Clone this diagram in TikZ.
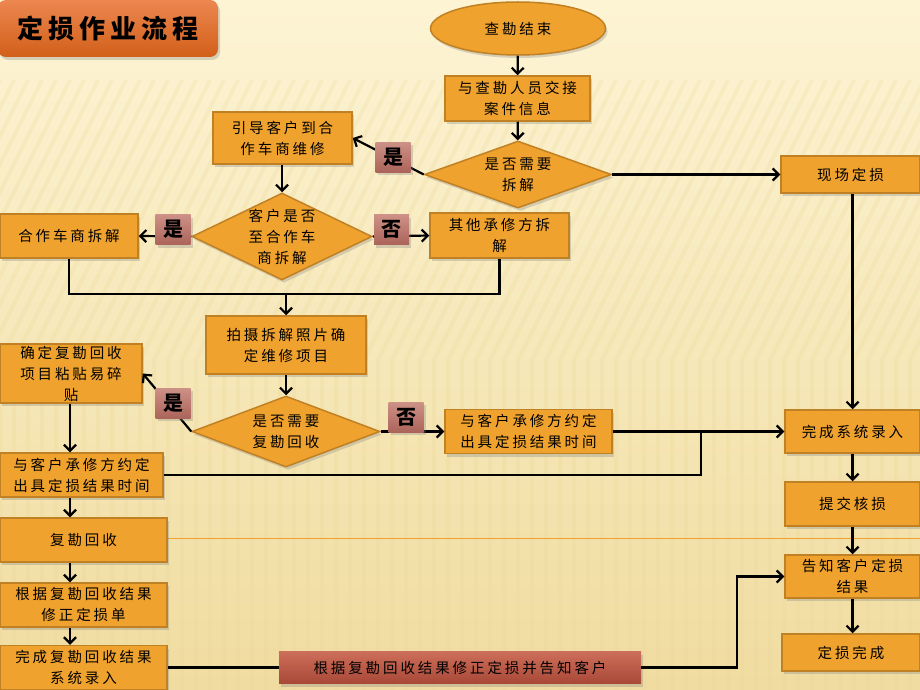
\documentclass[tikz,border=0pt]{standalone}
\usepackage{fontspec}
\setmainfont{Noto Sans CJK SC}
\newfontfamily\cjk[LetterSpace=20]{Noto Sans CJK SC}
\usetikzlibrary{shapes.geometric,arrows.meta,shadows,calc}
\definecolor{boxfill}{RGB}{240,162,46}
\definecolor{boxline}{RGB}{192,128,36}
\definecolor{bgtop}{RGB}{253,244,212}
\definecolor{bgbot}{RGB}{240,220,160}
\definecolor{stripe}{RGB}{236,214,150}
\definecolor{yntop}{RGB}{205,145,135}
\definecolor{ynbot}{RGB}{172,100,90}
\definecolor{redtop}{RGB}{205,110,90}
\definecolor{redbot}{RGB}{168,72,55}
\definecolor{titletop}{RGB}{236,135,80}
\definecolor{titlebot}{RGB}{210,95,25}
\tikzset{
  base/.style={font=\cjk\fontsize{14.5}{21}\selectfont, align=center, text=black, inner sep=0pt},
  shad/.style={drop shadow={shadow xshift=2pt, shadow yshift=-3pt, opacity=0.3}},
  box/.style={base, rectangle, fill=boxfill, draw=boxline, line width=1.5pt, shad},
  dia/.style={diamond, fill=boxfill, draw=boxline, line width=1.5pt, inner sep=0pt, shad},
  dtext/.style={base},
  yn/.style={rectangle, top color=yntop, bottom color=ynbot, font=\cjk\bfseries\fontsize{20}{20}\selectfont, minimum width=35, minimum height=30, inner sep=0pt, shad},
  arr/.style={line width=2.2pt, -{Straight Barb[length=6pt,width=12pt]}},
  conn/.style={line width=2.2pt},
}
\begin{document}
\begin{tikzpicture}[x=1pt,y=-1pt]
\useasboundingbox (0,0) rectangle (920,690);
\fill[top color=bgtop, bottom color=bgbot] (0,0) rectangle (920,690);
\begin{scope}
\clip (0,80) rectangle (920,690);
\foreach \i in {0,14,...,1300} {
  \draw[stripe, opacity=0.22, line width=4pt] (\i,80) -- (\i-140,360) -- (\i-140,690);
}
\end{scope}
% title
\node[rectangle, rounded corners=8pt, top color=titletop, bottom color=titlebot, minimum width=220, minimum height=57, inner sep=0pt, shad, font=\cjk\bfseries\fontsize{26}{30}\selectfont] (title) at (108,28.5) {定损作业流程};
% orange thin line
\coordinate (ol1) at (167,538);
\coordinate (ol2) at (920,538);
\draw[boxfill, line width=1pt] (ol1) -- (ol2);
% nodes
\node[ellipse, fill=boxfill, draw=boxline, line width=1.5pt, minimum width=175, minimum height=53, base, shad] (start) at (518,28.5) {查勘结束};
\node[box, minimum width=145, minimum height=45] (b1) at (517.5,98.5) {与查勘人员交接\\案件信息};
\node[dia, minimum width=187, minimum height=67] (d1) at (518,174.5) {};
\node[dtext] at (d1) {是否需要\\拆解};
\node[box, minimum width=139, minimum height=52] (b2) at (282.5,138) {引导客户到合\\作车商维修};
\node[box, minimum width=139, minimum height=37] (b3) at (850.5,174.5) {现场定损};
\node[dia, minimum width=180, minimum height=87] (d2) at (282,236.5) {};
\node[dtext] at (d2) {客户是否\\至合作车\\商拆解};
\node[box, minimum width=138, minimum height=44] (b4) at (69,236) {合作车商拆解};
\node[box, minimum width=139, minimum height=45] (b5) at (499.5,235.5) {其他承修方拆\\解};
\node[box, minimum width=160, minimum height=58] (b6) at (286,345) {拍摄拆解照片确\\定维修项目};
\node[dia, minimum width=188, minimum height=71] (d3) at (286,431.5) {};
\node[dtext] at (d3) {是否需要\\复勘回收};
\node[box, minimum width=142, minimum height=59] (b7) at (71,373.5) {确定复勘回收\\项目粘贴易碎\\贴};
\node[box, minimum width=167, minimum height=44] (b8) at (528.5,431.5) {与客户承修方约定\\出具定损结果时间};
\node[box, minimum width=135, minimum height=43] (b9) at (852.5,431.5) {完成系统录入};
\node[box, minimum width=163, minimum height=44] (b10) at (81.5,475) {与客户承修方约定\\出具定损结果时间};
\node[box, minimum width=167, minimum height=44] (b11) at (83.5,540) {复勘回收};
\node[box, minimum width=167, minimum height=44] (b12) at (83.5,605) {根据复勘回收结果\\修正定损单};
\node[box, minimum width=167, minimum height=44] (b13) at (83.5,667.5) {完成复勘回收结果\\系统录入};
\node[base, rectangle, top color=redtop, bottom color=redbot, minimum width=362, minimum height=32, shad] (r1) at (460,667.5) {根据复勘回收结果修正定损并告知客户};
\node[box, minimum width=135, minimum height=44] (b14) at (852.5,504) {提交核损};
\node[box, minimum width=135, minimum height=43] (b15) at (852.5,576.5) {告知客户定损\\结果};
\node[box, minimum width=138, minimum height=37] (b16) at (851,652.5) {定损完成};
% connectors
\draw[arr] (start) -- (b1);
\draw[arr] (b1) -- (d1);
\draw[arr] (d1.west) -- (b2.east);
\draw[arr] (d1.east) -- (b3.west);
\draw[arr] (b2.south -| d2) -- (d2.north);
\draw[arr] (d2.west) -- (b4.east);
\draw[arr] (d2.east) -- (b5.west);
\coordinate (m) at (286,294);
\draw[conn] (b4.south) |- (m) -| (b5.south);
\draw[arr] (m) -- (b6.north);
\draw[arr] (b6) -- (d3);
\draw[arr] (d3.west) -- (b7.east);
\draw[arr] (d3.east) -- (b8.west);
\draw[arr] (b8.east) -- (b9.west);
\coordinate (j) at (701,431.5);
\draw[conn] (b10.east) -| (j);
\draw[arr] (b9.north |- b3.south) -- (b9.north);
\coordinate (lc) at (70,0);
\draw[arr] (lc |- b7.south) -- (lc |- b10.north);
\draw[arr] (lc |- b10.south) -- (lc |- b11.north);
\draw[arr] (lc |- b11.south) -- (lc |- b12.north);
\draw[arr] (lc |- b12.south) -- (lc |- b13.north);
\draw[conn] (b13.east) -- (r1.west);
\coordinate (k) at (737,667.5);
\draw[arr] (r1.east) -- (k) |- (b15.west);
\draw[arr] (b9) -- (b14);
\draw[arr] (b14) -- (b15);
\draw[arr] (b15.south) -- (b15.south |- b16.north);
% yes/no labels
\node[yn] (y1) at (393,157) {是};
\node[yn] (y2) at (173,229.5) {是};
\node[yn] (n1) at (391.5,229.5) {否};
\node[yn] (y3) at (173,403) {是};
\node[yn] (n2) at (406,417) {否};
\end{tikzpicture}
\end{document}
